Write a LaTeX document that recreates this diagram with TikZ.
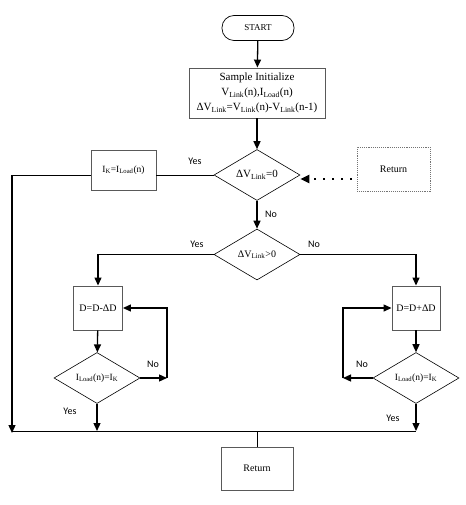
\documentclass[tikz,border=0pt]{standalone}
\usepackage{fontspec}
\setmainfont{Liberation Serif}
\newfontfamily\yesfont{Carlito}
\usetikzlibrary{
	arrows.meta,
	shapes.geometric,
	positioning
}
\newcommand{\lo}[1]{\textsubscript{#1}}

\begin{document}
\begin{tikzpicture}[x=1pt, y=-1pt,
		box/.style={draw=black!65, line width=0.9pt, inner sep=1pt, align=center, font=\fontsize{9.5}{10}\selectfont},
		term/.style={draw=black, line width=0.7pt, rounded corners=12pt, minimum width=72pt, minimum height=25pt, font=\fontsize{9}{10}\selectfont},
		dec/.style={diamond, draw=black, line width=0.6pt, minimum width=86pt, minimum height=51pt, inner sep=0pt, font=\fontsize{9.5}{10}\selectfont},
		arr/.style={line width=1.3pt, -{Triangle[length=8pt, width=7pt]}},
		ln/.style={line width=1pt},
		lbl/.style={font=\yesfont\fontsize{10}{11}\selectfont}
	]
		\useasboundingbox (0,0) rectangle (465,505);
		
		% start and init
		\node[term] (start) at (258,28) {START};
		\node[box, minimum width=136pt, minimum height=50pt, font=\fontsize{11}{15}\selectfont] (init) at (257,93)
			{Sample Initialize\\V\lo{Link}(n),I\lo{Load}(n)\\ΔV\lo{Link}=V\lo{Link}(n)-V\lo{Link}(n-1)};
		
		% first test
		\node[dec, font=\fontsize{11}{12}\selectfont] (dec1) at (257,175) {ΔV\lo{Link}=0};
		\node[box, minimum width=65pt, minimum height=40pt] (ik) at (123.5,170) {I\lo{K}=I\lo{Load}(n)};
		\node[box, draw=black!55, densely dotted, minimum width=73pt, minimum height=44pt, font=\fontsize{10}{11}\selectfont] (ret1) at (393.5,169) {Return};
		\node[dec, font=\fontsize{10}{11}\selectfont] (dec2) at (257,254.5) {ΔV\lo{Link}>0};
		
		% two branches
		\node[box, minimum width=49pt, minimum height=44pt, font=\fontsize{10}{11}\selectfont] (dm) at (98,308) {D=D-ΔD};
		\node[box, minimum width=48pt, minimum height=44pt, font=\fontsize{10}{11}\selectfont] (dp) at (416,308) {D=D+ΔD};
		\node[dec] (dec3) at (97,378) {I\lo{Load}(n)=I\lo{K}};
		\node[dec] (dec4) at (416,378) {I\lo{Load}(n)=I\lo{K}};
		
		\node[box, minimum width=72pt, minimum height=43pt, font=\fontsize{10}{11}\selectfont] (ret2) at (257,468.5) {Return};
		
		\coordinate (lft) at (12,175);
		\coordinate (busL) at (12,431);
		\coordinate (nl) at (167,378);
		\coordinate (nr) at (343,378);
		\coordinate (dots) at (352,179);
		
		\draw[arr] (start) -- (init);
		\draw[arr] (init) -- (dec1);
		\draw[ln] (dec1.west) -- (dec1.west -| ik.east);
		\draw[ln] (ik.west |- dec1.west) -- (lft);
		\draw[arr] (lft) -- ([yshift=-2pt]busL);
		\draw[line width=2pt, dash pattern=on 2pt off 7pt, -{Triangle[length=9pt, width=8pt]}] (dots) -- (dots -| dec1.east);
		\draw[arr] (dec1) -- (dec2);
		
		\draw[arr] (dec2.west) -| (dm.north);
		\draw[arr] (dec2.east) -| (dp.north);
		\draw[arr] (dm) -- (dec3);
		\draw[arr] (dp) -- (dec4);
		
		% loops back
		\draw[arr] (dec3.east) -- (nl);
		\draw[arr] (nl) |- (dm.east);
		\draw[arr] (dec4.west) -- (nr);
		\draw[arr] (nr) |- (dp.west);
		
		\draw[arr] (dec3.south) -- (dec3.south |- busL);
		\draw[arr] (dec4.south) -- (dec4.south |- busL);
		\draw[ln] (busL) -- (dec4.south |- busL);
		\draw[ln] (ret2.north |- busL) -- (ret2.north);
		
		\node[lbl] at (195,161) {Yes};
		\node[lbl] at (271,214) {No};
		\node[lbl] at (197,244) {Yes};
		\node[lbl] at (314,244) {No};
		\node[lbl] at (153,364) {No};
		\node[lbl] at (362,364) {No};
		\node[lbl] at (70,411) {Yes};
		\node[lbl] at (393,418) {Yes};
	\end{tikzpicture}
\end{document}
